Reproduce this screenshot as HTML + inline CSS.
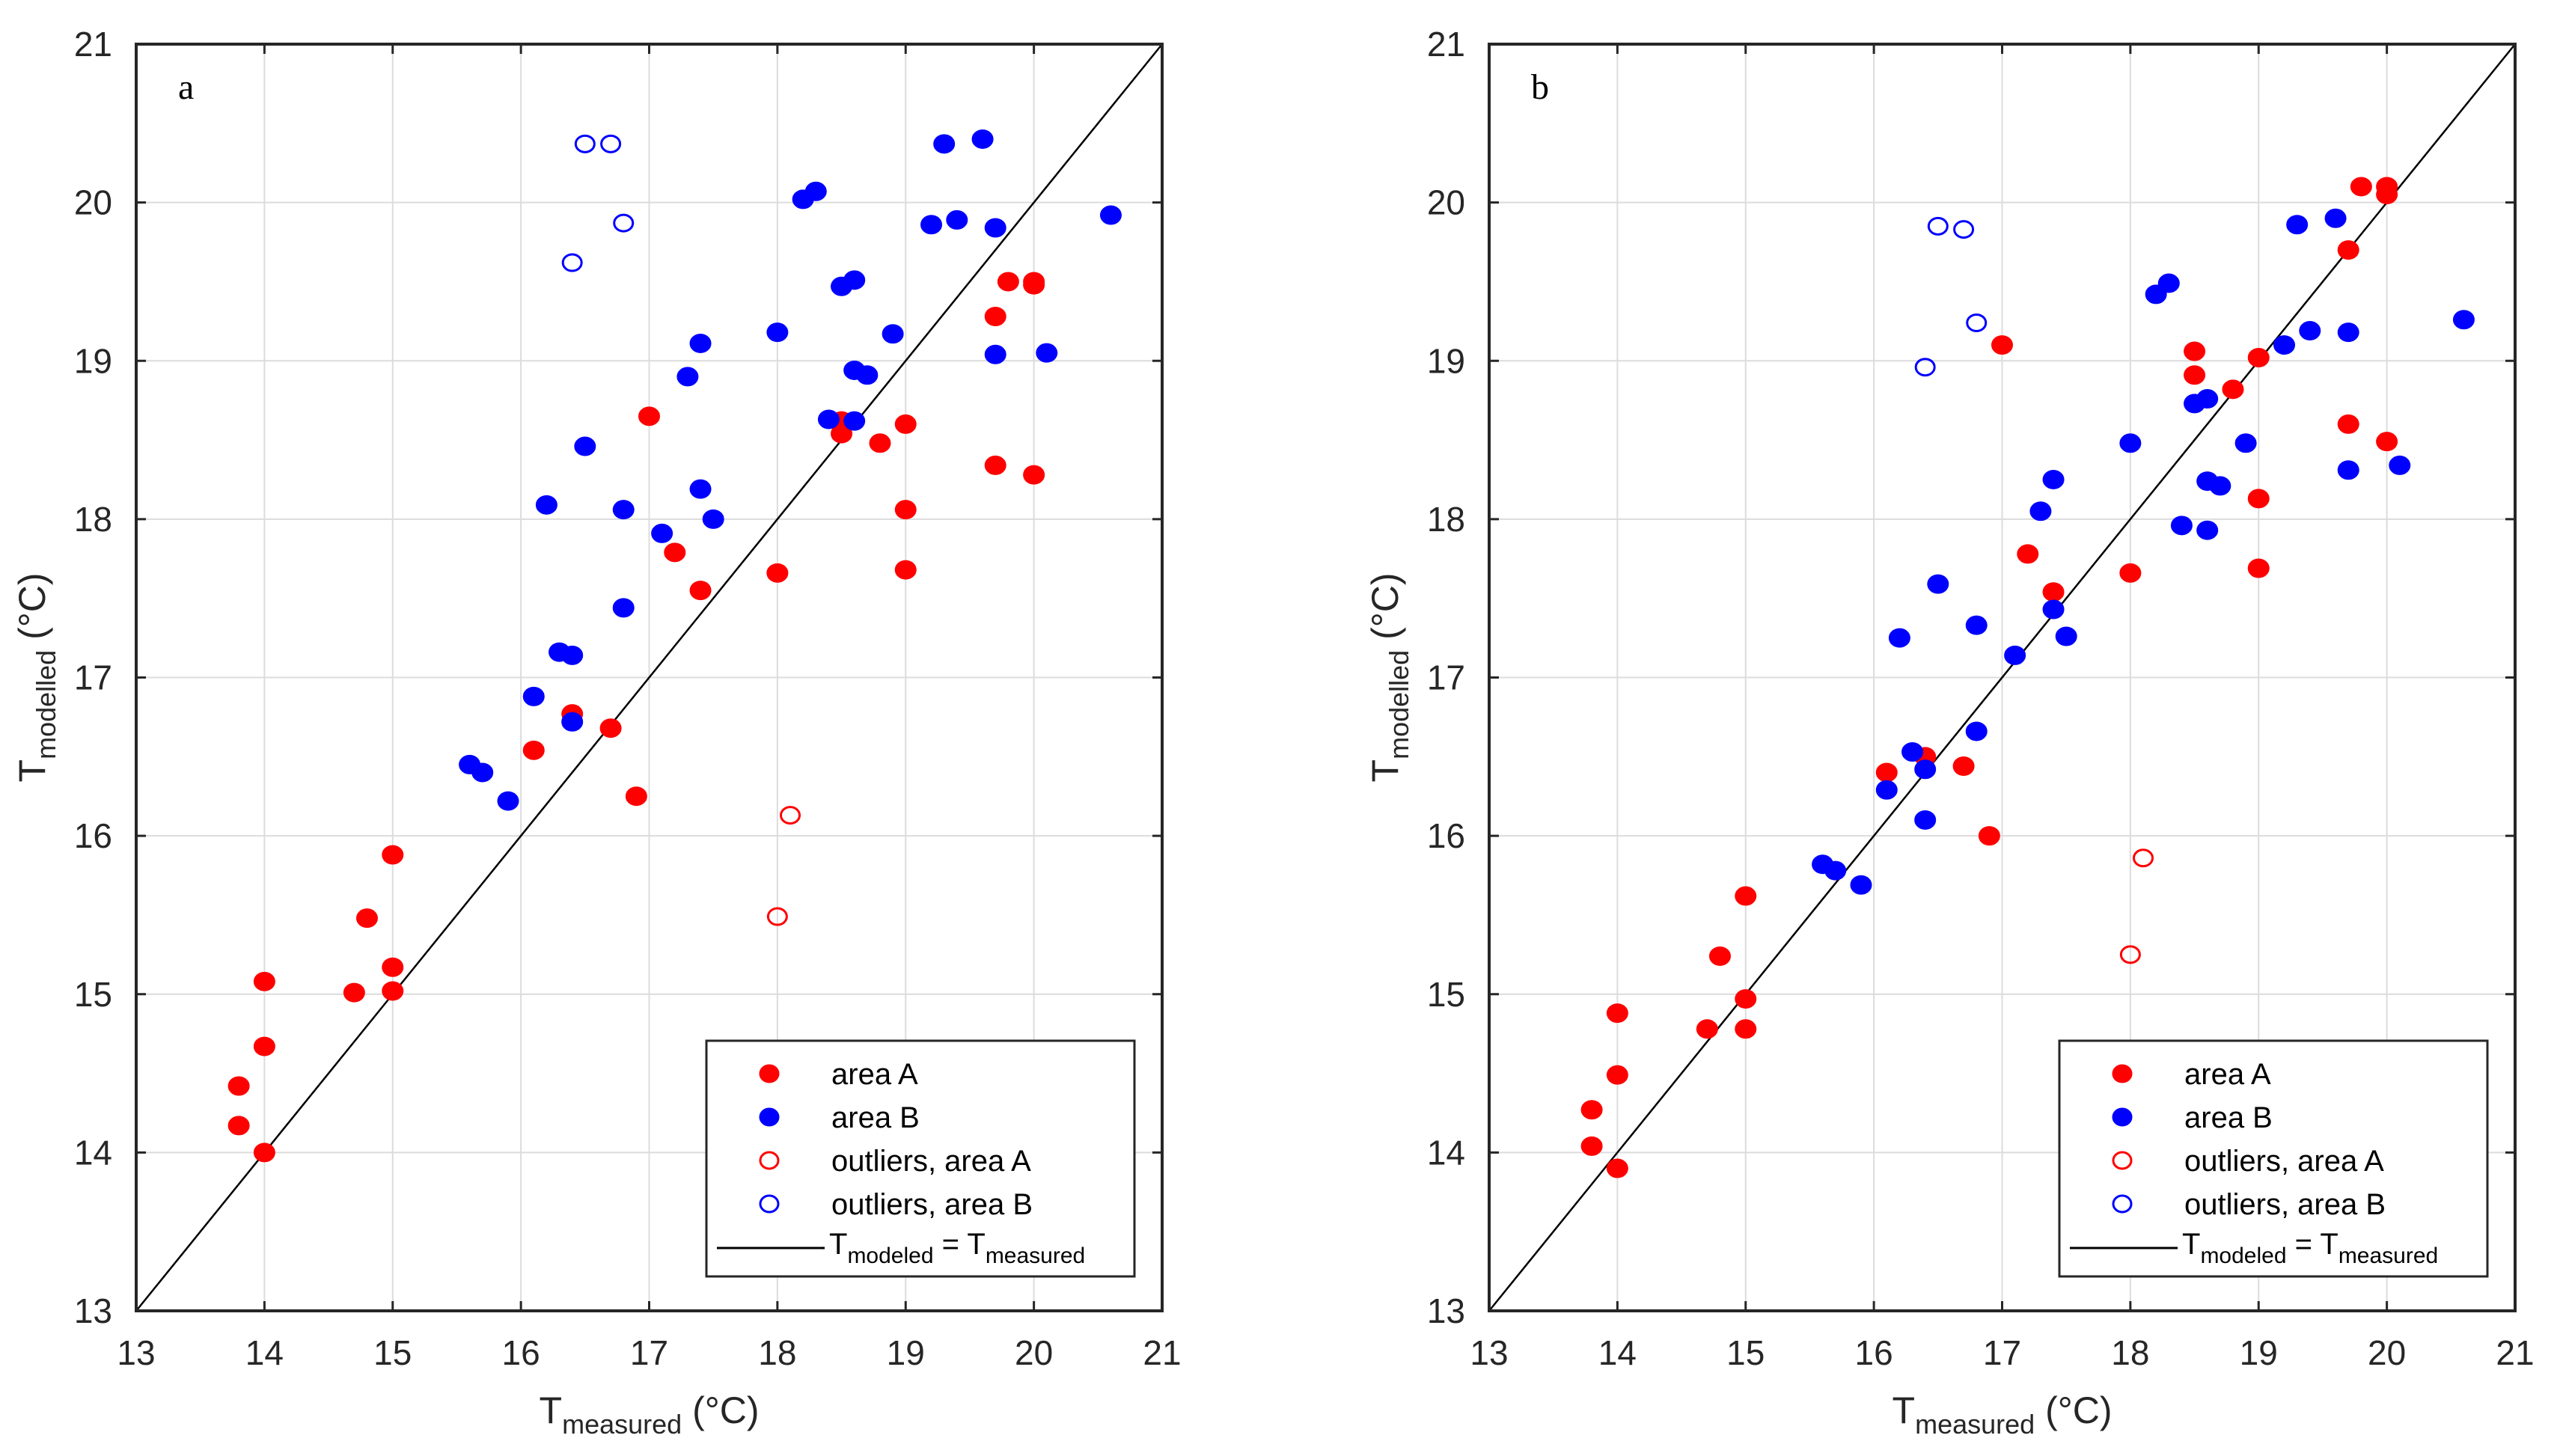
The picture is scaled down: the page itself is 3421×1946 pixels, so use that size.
<!DOCTYPE html>
<html><head><meta charset="utf-8"><style>
html,body{margin:0;padding:0;background:#fff;}
svg{display:block;font-family:"Liberation Sans",sans-serif;}
</style></head><body>
<svg id="chart" width="3421" height="1946" viewBox="0 0 3421 1946" xmlns="http://www.w3.org/2000/svg"></svg>
<script>
const ticks = [13,14,15,16,17,18,19,20,21];
const tickLabels = ["13","14","15","16","17","18","19","20","21"];
const aAreaAx = [13.8,13.8,14,14,14,14.7,14.8,15,15,15,16.1,16.4,16.7,16.9,17,17.2,17.4,18,18.5,18.5,18.8,19,19,19,19.7,19.7,19.8,20,20,20];
const aAreaAy = [14.42,14.17,15.08,14.67,14.0,15.01,15.48,15.88,15.17,15.02,16.54,16.77,16.68,16.25,18.65,17.79,17.55,17.66,18.54,18.62,18.48,18.6,18.06,17.68,19.28,18.34,19.5,19.5,19.48,18.28];
const aAreaBx = [15.6,15.7,15.9,16.1,16.2,16.3,16.4,16.4,16.5,16.8,16.8,17.1,17.3,17.4,17.4,17.5,18,18.2,18.3,18.4,18.5,18.6,18.6,18.6,18.7,18.9,19.2,19.3,19.4,19.6,19.7,19.7,20.1,20.6];
const aAreaBy = [16.45,16.4,16.22,16.88,18.09,17.16,17.14,16.72,18.46,18.06,17.44,17.91,18.9,19.11,18.19,18.0,19.18,20.02,20.07,18.63,19.47,19.51,18.94,18.62,18.91,19.17,19.86,20.37,19.89,20.4,19.84,19.04,19.05,19.92];
const aOutAx = [18,18.1], aOutAy = [15.49,16.13];
const aOutBx = [16.4,16.5,16.7,16.8], aOutBy = [19.62,20.37,20.37,19.87];
const bAreaAx = aAreaAx.slice();
const bAreaAy = [14.27,14.04,14.88,14.49,13.9,14.78,15.24,15.62,14.97,14.78,16.4,16.5,16.44,16.0,19.1,17.78,17.54,17.66,19.06,18.91,18.82,19.02,18.13,17.69,19.7,18.6,20.1,20.1,20.05,18.49];
const bAreaBx = aAreaBx.slice();
const bAreaBy = [15.82,15.78,15.69,16.29,17.25,16.53,16.42,16.1,17.59,17.33,16.66,17.14,18.05,18.25,17.43,17.26,18.48,19.42,19.49,17.96,18.73,18.76,18.24,17.93,18.21,18.48,19.1,19.86,19.19,19.9,19.18,18.31,18.34,19.26];
const bOutAx = [18,18.1], bOutAy = [15.25,15.86];
const bOutBx = [16.4,16.5,16.7,16.8], bOutBy = [18.96,19.85,19.83,19.24];

const NS="http://www.w3.org/2000/svg";
const svg=document.getElementById('chart');
function mk(tag,attrs,parent){const e=document.createElementNS(NS,tag);for(const k in attrs)e.setAttribute(k,attrs[k]);(parent||svg).appendChild(e);return e;}

function panel(id,x0,label,AAx,AAy,ABx,ABy,OAx,OAy,OBx,OBy){
  const y0=59,W=1371,H=1693;
  const sx=v=>x0+(v-13)/8*W, sy=v=>y0+H-(v-13)/8*H;
  const g=mk('g',{});
  
  
  ticks.forEach((t,i)=>{
    if(i>0&&i<ticks.length-1){
      const gx=mk('line',{x1:sx(t),x2:sx(t),y1:y0,y2:y0+H,stroke:'#dcdcdc','stroke-width':2},g);
      
      
      const gy=mk('line',{x1:x0,x2:x0+W,y1:sy(t),y2:sy(t),stroke:'#dcdcdc','stroke-width':2},g);
      
      
      mk('line',{x1:sx(t),x2:sx(t),y1:y0+H,y2:y0+H-13,stroke:'#262626','stroke-width':3},g);
      mk('line',{x1:sx(t),x2:sx(t),y1:y0,y2:y0+13,stroke:'#262626','stroke-width':3},g);
      mk('line',{x1:x0,x2:x0+13,y1:sy(t),y2:sy(t),stroke:'#262626','stroke-width':3},g);
      mk('line',{x1:x0+W,x2:x0+W-13,y1:sy(t),y2:sy(t),stroke:'#262626','stroke-width':3},g);
    }
    const xl=mk('text',{x:sx(t),y:y0+H+72,'font-size':46,'text-anchor':'middle',fill:'#262626'},g);
    xl.textContent=tickLabels[i];
    
    
    const yl=mk('text',{x:x0-32,y:sy(t)+16,'font-size':46,'text-anchor':'end',fill:'#262626'},g);
    yl.textContent=tickLabels[i];
    
    
  });
  const idl=mk('line',{x1:sx(13),y1:sy(13),x2:sx(21),y2:sy(21),stroke:'#000','stroke-width':2.5},g);
  
  
  function dots(xs,ys,color,filled,name){
    xs.forEach((v,i)=>{
      const c=mk('ellipse',{cx:sx(v),cy:sy(ys[i]),rx:filled?14:12.5,ry:filled?12.5:11,fill:filled?color:'none',stroke:color,'stroke-width':filled?1:3},g);
      
      
    });
  }
  dots(AAx,AAy,'#ff0000',true,'point-area-a');
  dots(ABx,ABy,'#0000ff',true,'point-area-b');
  dots(OAx,OAy,'#ff0000',false,'point-outlier-area-a');
  dots(OBx,OBy,'#0000ff',false,'point-outlier-area-b');
  const box=mk('rect',{x:x0,y:y0,width:W,height:H,fill:'none',stroke:'#262626','stroke-width':4},g);
  
  
  const pl=mk('text',{x:x0+56,y:y0+73,'font-size':48,'font-family':'"Liberation Serif",serif',fill:'#000'},g);
  pl.textContent=label;
  
  
  const xt=mk('text',{x:x0+W/2,y:y0+H+150,'font-size':50,'text-anchor':'middle',fill:'#262626'},g);
  xt.innerHTML='T<tspan font-size="36" dy="14">measured</tspan><tspan dy="-14"> (°C)</tspan>';
  
  
  const yt=mk('text',{x:0,y:0,'font-size':50,'text-anchor':'middle',fill:'#262626',transform:`translate(${x0-122},${y0+H/2}) rotate(-90)`},g);
  yt.innerHTML='T<tspan font-size="36" dy="14">modelled</tspan><tspan dy="-14"> (°C)</tspan>';
  
  
  const lx=x0+762, ly=1391, lw=572, lh=315;
  const lg=mk('g',{},g);
  
  
  mk('rect',{x:lx,y:ly,width:lw,height:lh,fill:'#fff',stroke:'#262626','stroke-width':3},lg);
  const entries=[['area A','#ff0000',true],['area B','#0000ff',true],['outliers, area A','#ff0000',false],['outliers, area B','#0000ff',false]];
  entries.forEach((e,i)=>{
    const yy=ly+44+i*58;
    const m=mk('ellipse',{cx:lx+84,cy:yy,rx:e[2]?13:12,ry:e[2]?12:11,fill:e[2]?e[1]:'none',stroke:e[1],'stroke-width':e[2]?1:3},lg);
    
    
    const t=mk('text',{x:lx+167,y:yy+14,'font-size':40,fill:'#000'},lg);
    t.textContent=e[0];
    
    
  });
  mk('line',{x1:lx+14,x2:lx+158,y1:ly+277,y2:ly+277,stroke:'#000','stroke-width':3},lg);
  const lt=mk('text',{x:lx+164,y:ly+285,'font-size':40,fill:'#000'},lg);
  lt.innerHTML='T<tspan font-size="30" dy="12">modeled</tspan><tspan dy="-12"> = T</tspan><tspan font-size="30" dy="12">measured</tspan>';
  
  
}
panel('a',182,'a',aAreaAx,aAreaAy,aAreaBx,aAreaBy,aOutAx,aOutAy,aOutBx,aOutBy);
panel('b',1990,'b',bAreaAx,bAreaAy,bAreaBx,bAreaBy,bOutAx,bOutAy,bOutBx,bOutBy);
</script>
</body></html>
